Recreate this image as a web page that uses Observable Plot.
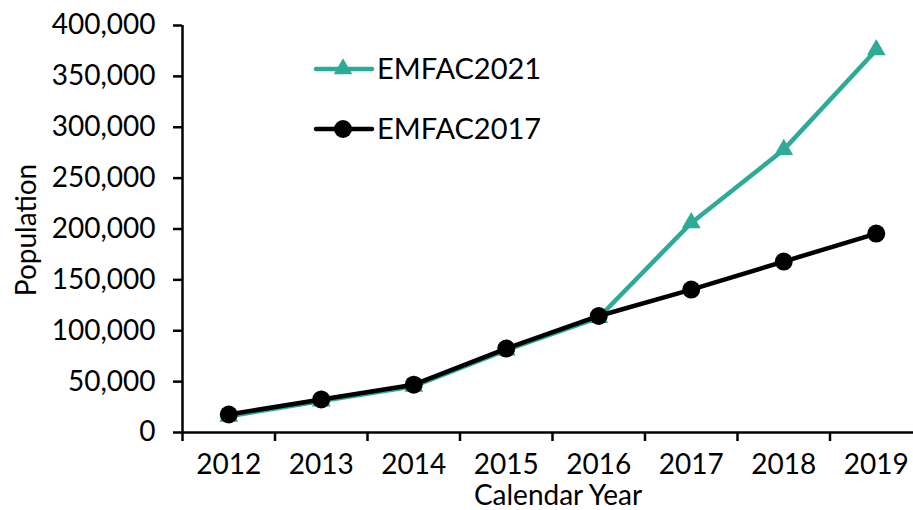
<!DOCTYPE html>
<html>
<head>
<meta charset="utf-8">
<script src="https://cdn.jsdelivr.net/npm/d3@7"></script>
<script src="https://cdn.jsdelivr.net/npm/@observablehq/plot@0.6"></script>
<style>
  html, body { margin: 0; padding: 0; background: #fff; }
  #wrap { position: relative; width: 913px; height: 510px; overflow: hidden; font-family: Lato, "Noto Sans", sans-serif; color: #000; }
  .lab { position: absolute; font-size: 28px; line-height: 1; white-space: nowrap; }
  #xlab { left: 558px; top: 480px; transform: translateX(-50%); }
  #ylab { left: 25px; top: 230px; transform: translate(-50%, -50%) rotate(-90deg); }
  #legend { position: absolute; left: 310px; top: 40px; }
</style>
</head>
<body>
<div id="wrap"></div>
<script>
const years = [2012, 2013, 2014, 2015, 2016, 2017, 2018, 2019];
const emfac2017 = [17700, 32500, 47000, 82500, 114500, 140500, 168000, 195500];
const emfac2021 = [16000, 31000, 45500, 81000, 113000, 206000, 278000, 376000];
const yTicks = [0, 50000, 100000, 150000, 200000, 250000, 300000, 350000, 400000];
const seriesNames = ["EMFAC2021", "EMFAC2017"];
const xTitle = "Calendar Year";
const yTitle = "Population";
const teal = "#2eab97";

const d17 = years.map((y, i) => ({year: y, value: emfac2017[i]}));
const d21 = years.map((y, i) => ({year: y, value: emfac2021[i]}));
const bounds = years.map(y => y - 0.5);

const chart = Plot.plot({
  width: 913,
  height: 510,
  marginLeft: 182,
  marginTop: 25,
  marginBottom: 78,
  marginRight: 0,
  style: {fontFamily: "Lato, 'Noto Sans', sans-serif", fontSize: "28px", color: "#000", background: "#fff"},
  x: {type: "linear", domain: [2011.5, 2019.5], range: [182, 922]},
  y: {domain: [0, 400000]},
  marks: [
    Plot.axisY({ticks: yTicks, tickFormat: d3.format(","), tickSize: 9, tickPadding: 18, strokeWidth: 2.5, label: null, fontSize: 28}),
    Plot.axisX({ticks: years, tickFormat: d => String(d), tickSize: 0, tickPadding: 22, fontSize: 28, label: null}),
    Plot.axisX({ticks: bounds, tickFormat: () => "", tickSize: 9, strokeWidth: 2.5, label: null}),
    Plot.ruleY([0], {stroke: "#000", strokeWidth: 2.5}),
    Plot.ruleX([2011.5], {stroke: "#000", strokeWidth: 2.5}),
    Plot.line(d21, {x: "year", y: "value", stroke: teal, strokeWidth: 4.5}),
    Plot.dot(d21, {x: "year", y: "value", symbol: "triangle", r: 7, fill: teal, stroke: "none"}),
    Plot.line(d17, {x: "year", y: "value", stroke: "#000", strokeWidth: 4.5}),
    Plot.dot(d17, {x: "year", y: "value", symbol: "circle", r: 9, fill: "#000", stroke: "none"})
  ]
});
const wrap = document.getElementById("wrap");
wrap.appendChild(chart);

// axis titles
const xl = document.createElement("div");
xl.className = "lab"; xl.id = "xlab"; xl.textContent = xTitle;
wrap.appendChild(xl);
const yl = document.createElement("div");
yl.className = "lab"; yl.id = "ylab"; yl.textContent = yTitle;
wrap.appendChild(yl);

// legend
const symbols = [d3.symbolTriangle, d3.symbolCircle];
const colors = [teal, "#000"];
const sizes = [150, 254];
const lg = d3.create("svg").attr("id", "legend").attr("width", 260).attr("height", 110);
seriesNames.forEach((name, i) => {
  const g = lg.append("g").attr("transform", `translate(0,${29 + i * 60})`);
  g.append("line").attr("x1", 6).attr("x2", 62).attr("y1", 0).attr("y2", 0)
    .attr("stroke", colors[i]).attr("stroke-width", 4.5).attr("stroke-linecap", "round");
  g.append("path").attr("d", d3.symbol(symbols[i], sizes[i])()).attr("transform", "translate(33,0)")
    .attr("fill", colors[i]);
  g.append("text").attr("x", 67).attr("y", 0).attr("dy", "0.36em")
    .attr("font-family", "Lato, 'Noto Sans', sans-serif").attr("font-size", 29).text(name);
});
wrap.appendChild(lg.node());
</script>
</body>
</html>
